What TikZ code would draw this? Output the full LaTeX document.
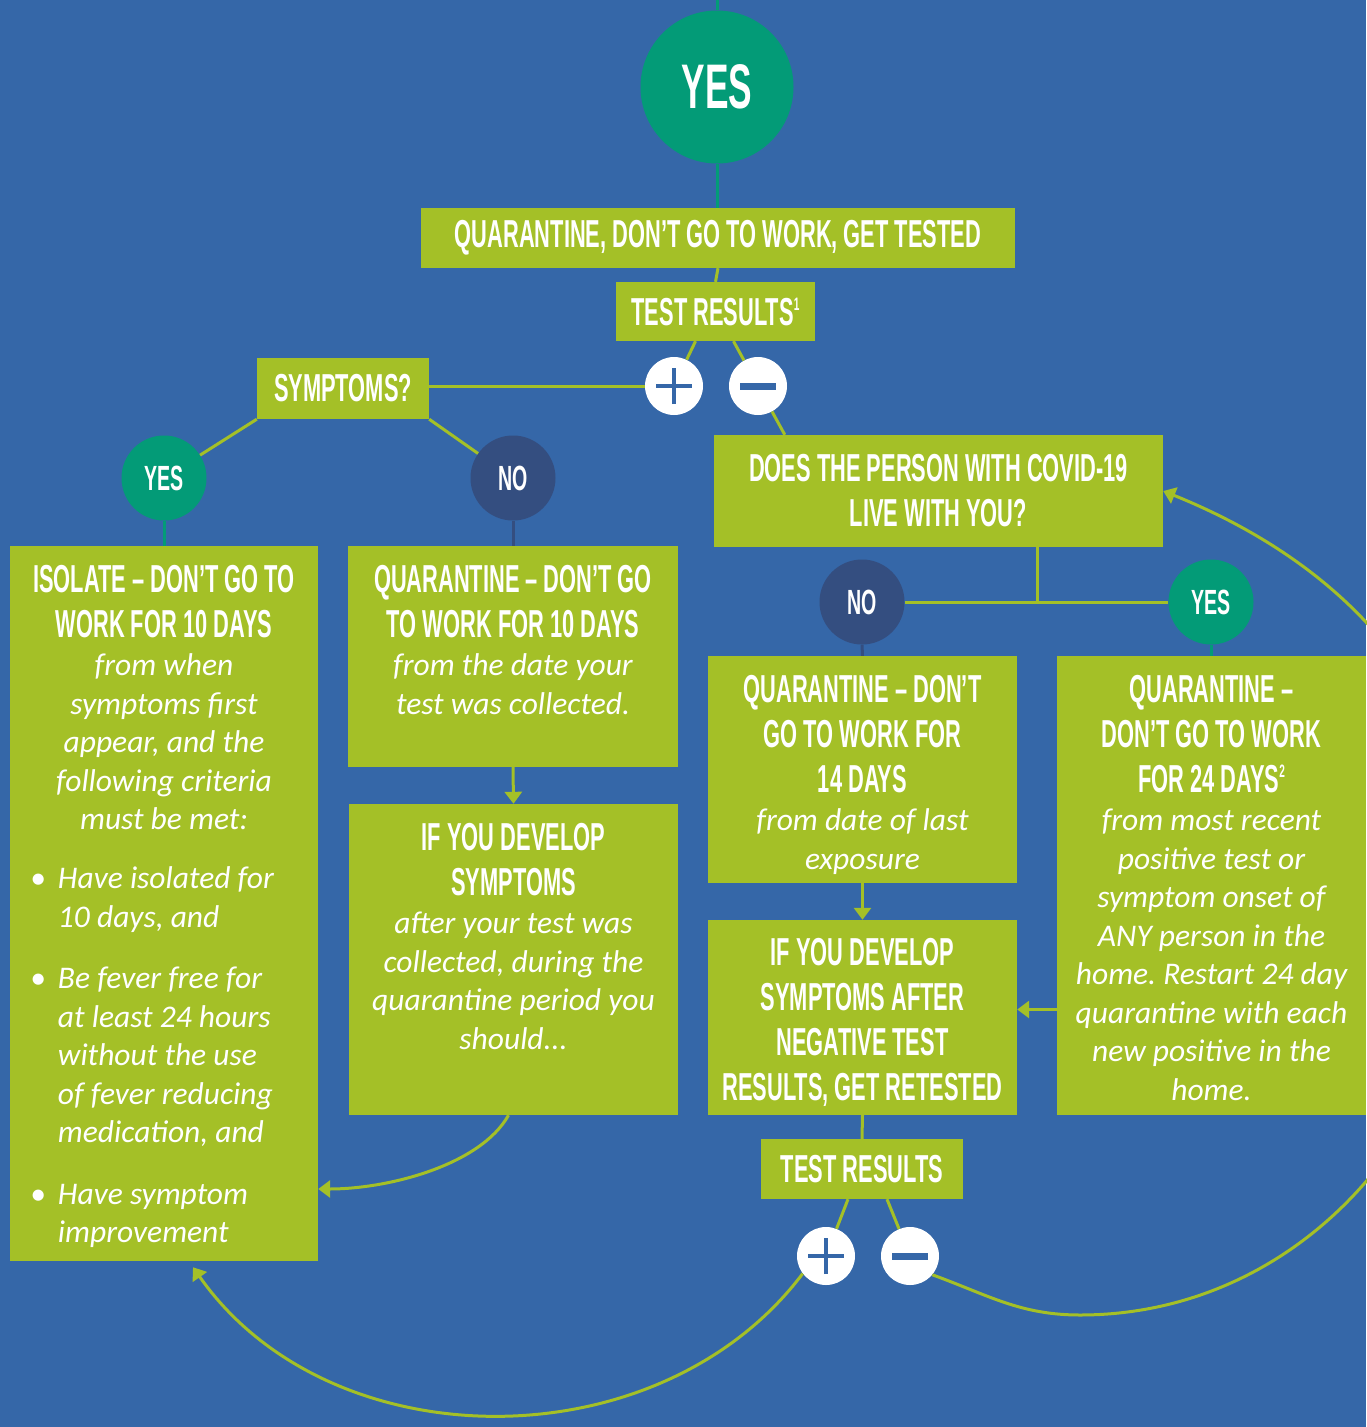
\documentclass[tikz,border=0pt]{standalone}
\usepackage{fontspec}
\usetikzlibrary{positioning}
\usetikzlibrary{calc}
\usetikzlibrary{arrows.meta}
\newfontfamily\capsfont[FakeStretch=0.56]{Liberation Sans}
\newfontfamily\notefont{Carlito}
\newcommand\headtxt{\capsfont\bfseries\fontsize{39}{45}\selectfont\spaceskip=0pt\xspaceskip=0pt\frenchspacing}
\newcommand\notetxt{\notefont\mdseries\itshape\fontsize{31.5}{38.5}\selectfont\spaceskip=0pt\xspaceskip=0pt\frenchspacing}
\newcommand\ynfont{\capsfont\bfseries\fontsize{35}{35}\selectfont}
\newcommand\bigynfont{\capsfont\bfseries\fontsize{63}{63}\selectfont}
\newcommand\supnum[1]{\raisebox{15pt}{\fontsize{18}{18}\selectfont #1}}
\definecolor{backblue}{RGB}{53,103,168}
\definecolor{boxgreen}{RGB}{164,192,39}
\definecolor{yesgreen}{RGB}{3,155,119}
\definecolor{nonavy}{RGB}{52,78,128}
\begin{document}
\begin{tikzpicture}[x=1pt,y=1pt,
  link/.style={draw=boxgreen,line width=3pt},
  flow/.style={link,-{Triangle[width=17pt,length=12pt]}},
  box/.style={fill=boxgreen,text=white,inner sep=0pt,align=center,font=\headtxt},
  txt/.style={text=white,inner sep=0pt,text width=#1},
  ball/.style={circle,fill=#1,text=white,inner sep=0pt,minimum size=85pt,font=\ynfont},
  plusball/.style={circle,fill=white,inner sep=0pt,minimum size=58pt,
    path picture={\draw[backblue,line width=3.5pt] (path picture bounding box.center) +(-18,0) -- +(18,0) +(0,-18) -- +(0,18);}},
  minusball/.style={circle,fill=white,inner sep=0pt,minimum size=58pt,
    path picture={\draw[backblue,line width=7pt] (path picture bounding box.center) +(-18,0) -- +(18,0);}}]
  \fill[backblue] (0,0) rectangle (1366,-1427);
  \useasboundingbox (0,0) rectangle (1366,-1427);

  \node[ball=yesgreen,minimum size=153pt,font=\bigynfont] (yes0) at (717,-87) {YES};
  \node[box,minimum width=594pt,minimum height=60pt] (quar) at (718,-238) {QUARANTINE, DON’T GO TO WORK, GET TESTED};
  \node[box,minimum width=199pt,minimum height=59pt] (res1) at (715.5,-311.5) {TEST RESULTS\supnum{1}};
  \node[plusball] (pos1) at (674,-386) {};
  \node[minusball] (neg1) at (758,-386) {};
  \node[box,minimum width=172pt,minimum height=61pt] (sym) at (343,-388.5) {SYMPTOMS?};
  \node[ball=yesgreen] (yes1) at (164,-478) {YES};
  \node[ball=nonavy] (no1) at (513,-478) {NO};
  \node[box,minimum width=308pt,minimum height=715pt] (iso) at (164,-903.5) {};
  \node[box,minimum width=330pt,minimum height=221pt] (q10) at (513,-656.5) {};
  \node[box,minimum width=329pt,minimum height=311pt] (if1) at (513.5,-959.5) {};
  \node[box,minimum width=449pt,minimum height=112pt] (live) at (938.5,-491) {DOES THE PERSON WITH COVID-19\\LIVE WITH YOU?};
  \node[ball=nonavy] (no2) at (862,-602) {NO};
  \node[ball=yesgreen] (yes2) at (1211,-602) {YES};
  \node[box,minimum width=309pt,minimum height=227pt] (q14) at (862.5,-769.5) {};
  \node[box,minimum width=309pt,minimum height=195pt] (if2) at (862.5,-1017.5) {};
  \node[box,minimum width=309pt,minimum height=459pt] (q24) at (1211.5,-885.5) {};
  \node[box,minimum width=202pt,minimum height=60pt] (res2) at (862,-1169) {TEST RESULTS};
  \node[plusball] (pos2) at (826,-1256) {};
  \node[minusball] (neg2) at (910,-1256) {};

  \node[txt=300pt,below=19pt of iso.north] (isohead) {\centering\headtxt ISOLATE – DON’T GO TO\\WORK FOR 10 DAYS\par
    \notetxt from when\\symptoms first\\appear, and the\\following criteria\\must be met:\par};
  \node[txt=280pt,anchor=north west] (crit) at ($(iso.north west)+(20,-321)$) {\raggedright\notetxt
    \hangindent=28pt\hangafter=1\makebox[28pt][l]{\textbullet}Have isolated for\newline 10 days, and\par\vspace{23pt}
    \hangindent=28pt\hangafter=1\makebox[28pt][l]{\textbullet}Be fever free for\newline at least 24 hours\newline without the use\newline of fever reducing\newline medication, and\par\vspace{23pt}
    \hangindent=28pt\hangafter=1\makebox[28pt][l]{\textbullet}Have symptom\newline improvement\par};
  \node[txt=325pt,below=19pt of q10.north] (q10head) {\centering\headtxt QUARANTINE – DON’T GO\\TO WORK FOR 10 DAYS\par
    \notetxt from the date your\\test was collected.\par};
  \node[txt=325pt,below=19pt of if1.north] (if1head) {\centering\headtxt IF YOU DEVELOP\\SYMPTOMS\par
    \notetxt after your test was\\collected, during the\\quarantine period you\\should...\par};
  \node[txt=305pt,below=19pt of q14.north] (q14head) {\centering\headtxt QUARANTINE – DON’T\\GO TO WORK FOR\\14 DAYS\par
    \notetxt from date of last\\exposure\par};
  \node[txt=305pt,below=18pt of if2.north] (if2head) {\centering\headtxt IF YOU DEVELOP\\SYMPTOMS AFTER\\NEGATIVE TEST\\RESULTS, GET RETESTED\par};
  \node[txt=305pt,below=19pt of q24.north] (q24head) {\centering\headtxt QUARANTINE –\\DON’T GO TO WORK\\FOR 24 DAYS\supnum{2}\par
    \notetxt from most recent\\positive test or\\symptom onset of\\ANY person in the\\home. Restart 24 day\\quarantine with each\\new positive in the\\home.\par};

  \coordinate (topend) at (717,10);
  \coordinate (low) at (1080,-1315);
  \coordinate (far) at (1471,-895);
  \draw[link,draw=yesgreen] (topend) -- (yes0);
  \draw[link,draw=yesgreen] (yes0) -- (yes0 |- quar.north);
  \draw[link] (quar.south) -- (res1.north);
  \draw[link] (res1.south) ++(-20,0) -- (pos1);
  \draw[link] (res1.south) ++(18,0) -- (neg1);
  \draw[link] (pos1.west) -- (pos1.west -| sym.east);
  \draw[link] (neg1) -- ($(live.north west)+(71,0)$);
  \draw[link] (sym.south west) -- (yes1);
  \draw[link] (sym.south east) -- (no1);
  \draw[link,draw=yesgreen] (yes1.south) -- (iso.north);
  \draw[link,draw=nonavy] (no1.south) -- (q10.north);
  \draw[flow] (q10.south) -- (if1.north);
  \draw[flow] ($(if1.south)+(-5,0)$) .. controls +(-28,-50) and +(70,0) .. ($(iso.east)+(0,-285.5)$);
  \draw[link] ($(live.south)+(98.5,0)$) coordinate (split) -- (split |- no2.east);
  \draw[link] (no2) -- (yes2);
  \draw[link,draw=nonavy] (no2.south) -- (q14.north);
  \draw[link,draw=yesgreen] (yes2.south) -- (yes2.south |- q24.north);
  \draw[flow] (q14.south) -- (if2.north);
  \draw[flow] ($(if2.east -| q24.west)+(0,8)$) -- ($(if2.east)+(0,8)$);
  \draw[link] (if2.south) -- (res2.north);
  \draw[link] (res2.south) ++(-14,0) -- (pos2);
  \draw[link] (res2.south) ++(25,0) -- (neg2);
  \draw[flow] (pos2.-143) to[out=-127,in=-55] ($(iso.south)+(29,-6)$);
  \draw[flow] (neg2.-40) to[out=-20,in=180] (low) to[out=0,in=-90] (far) to[out=90,in=-22] (live.east);
\end{tikzpicture}
\end{document}
